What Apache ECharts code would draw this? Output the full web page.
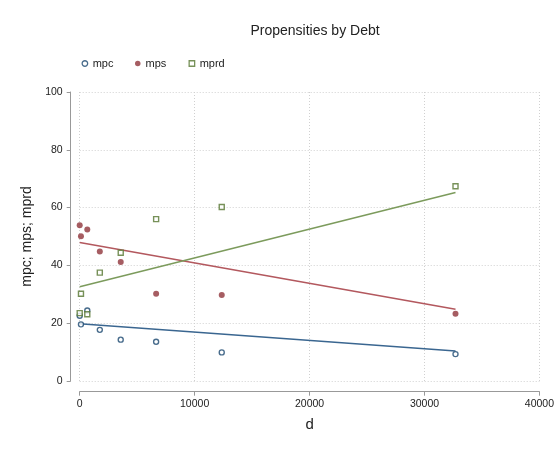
<!DOCTYPE html>
<html>
<head>
<meta charset="utf-8">
<script src="https://cdn.jsdelivr.net/npm/echarts@6/dist/echarts.min.js"></script>
<style>
  html, body { margin: 0; padding: 0; background: #ffffff; }
  #chart { width: 557px; height: 459px; }
</style>
</head>
<body>
<div id="chart"></div>
<script>
// Debt level (d) for each observation
const debt = [0, 110, 660, 1750, 3570, 6650, 12360, 32700];
// Propensities (percent) at each debt level
const mpc  = [22.6, 19.6, 24.4, 17.7, 14.3, 13.6, 9.9, 9.3];
const mps  = [53.9, 50.1, 52.4, 44.8, 41.2, 30.2, 29.8, 23.3];
const mprd = [23.5, 30.2, 23.1, 37.5, 44.4, 56.0, 60.2, 67.4];
// Linear fit lines: endpoints over the observed debt range
const fitDebt = [0, 32700];
const fitMpc  = [19.8, 10.4];
const fitMps  = [47.9, 24.8];
const fitMprd = [32.6, 65.2];
// Axis tick values
const xTicks = [0, 10000, 20000, 30000, 40000];
const yTicks = [0, 20, 40, 60, 80, 100];

const FONT = 'Liberation Sans, Arial, sans-serif';
const C_MPC = '#1a476f', C_MPS = '#90353b', C_MPRD = '#55752f';
const L_MPC = '#3a6690', L_MPS = '#b3585e', L_MPRD = '#7c9b5c';

const pairs = (xs, ys) => xs.map((x, i) => [x, ys[i]]);

const chart = echarts.init(document.getElementById('chart'), null, { renderer: 'canvas' });

const legendBase = {
  top: 53, padding: 5, itemWidth: 5.5, itemHeight: 5.5, itemGap: 5,
  textStyle: { fontFamily: FONT, fontSize: 11, color: '#222' },
  selectedMode: false
};

chart.setOption({
  animation: false,
  backgroundColor: '#ffffff',
  title: {
    text: 'Propensities by Debt',
    left: 310, top: 19, textAlign: 'center',
    textStyle: { fontFamily: FONT, fontSize: 14, fontWeight: 'normal', color: '#222' }
  },
  legend: [
    Object.assign({}, legendBase, { left: 76.5, data: [{ name: 'mpc', icon: 'circle', itemStyle: { color: '#fff', borderColor: C_MPC, borderWidth: 1.3 } }] }),
    Object.assign({}, legendBase, { left: 130, data: [{ name: 'mps', icon: 'circle', itemStyle: { color: C_MPS } }] }),
    Object.assign({}, legendBase, { left: 183.5, data: [{ name: 'mprd', icon: 'rect', itemStyle: { color: '#fff', borderColor: C_MPRD, borderWidth: 1.3 } }] })
  ],
  grid: { left: 79.7, right: 14.7, top: 92, bottom: 78, containLabel: false },
  xAxis: {
    type: 'value', min: 0, max: 40000, interval: 10000,
    offset: 10.7,
    name: 'd', nameLocation: 'middle', nameGap: 26,
    nameTextStyle: { fontFamily: FONT, fontSize: 15, color: '#222' },
    axisLine: { show: true, onZero: false, lineStyle: { color: '#999', width: 1 } },
    axisTick: { show: true, length: 4, lineStyle: { color: '#999' } },
    axisLabel: {
      margin: 7, fontFamily: FONT, fontSize: 10.5, color: '#222',
      formatter: v => xTicks.includes(v) ? String(v) : ''
    },
    splitLine: { show: true, lineStyle: { color: '#d0d0d0', type: [1, 2], width: 1 } }
  },
  yAxis: {
    type: 'value', min: 0, max: 100, interval: 20,
    offset: 9,
    name: 'mpc; mps; mprd', nameLocation: 'middle', nameGap: 34, nameRotate: 90,
    nameTextStyle: { fontFamily: FONT, fontSize: 14, color: '#222' },
    axisLine: { show: true, onZero: false, lineStyle: { color: '#999', width: 1 } },
    axisTick: { show: true, length: 4, lineStyle: { color: '#999' } },
    axisLabel: {
      margin: 8, fontFamily: FONT, fontSize: 10.5, color: '#222',
      formatter: v => yTicks.includes(v) ? String(v) : ''
    },
    splitLine: { show: true, lineStyle: { color: '#d0d0d0', type: [1, 2], width: 1 } }
  },
  series: [
    {
      name: 'mpc', type: 'scatter', data: pairs(debt, mpc),
      symbol: 'circle', symbolSize: 5, z: 5,
      itemStyle: { color: '#fff', borderColor: C_MPC, borderWidth: 1.4 }
    },
    {
      name: 'mps', type: 'scatter', data: pairs(debt, mps),
      symbol: 'circle', symbolSize: 6, z: 5,
      itemStyle: { color: C_MPS }
    },
    {
      name: 'mprd', type: 'scatter', data: pairs(debt, mprd),
      symbol: 'rect', symbolSize: 5, z: 5,
      itemStyle: { color: '#fff', borderColor: C_MPRD, borderWidth: 1.4 }
    },
    {
      name: 'fit mpc', type: 'line', data: pairs(fitDebt, fitMpc),
      showSymbol: false, symbol: 'none', z: 3,
      lineStyle: { color: L_MPC, width: 1.6 }
    },
    {
      name: 'fit mps', type: 'line', data: pairs(fitDebt, fitMps),
      showSymbol: false, symbol: 'none', z: 3,
      lineStyle: { color: L_MPS, width: 1.6 }
    },
    {
      name: 'fit mprd', type: 'line', data: pairs(fitDebt, fitMprd),
      showSymbol: false, symbol: 'none', z: 3,
      lineStyle: { color: L_MPRD, width: 1.6 }
    }
  ]
});
</script>
</body>
</html>
